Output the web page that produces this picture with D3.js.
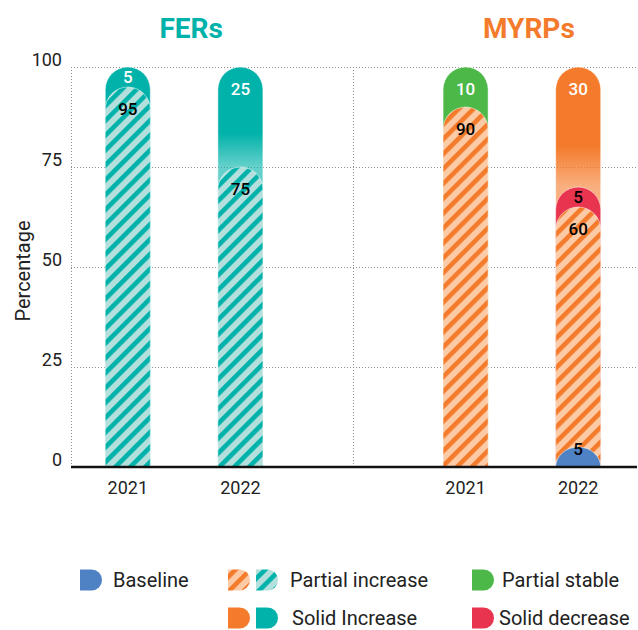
<!DOCTYPE html>
<html>
<head>
<meta charset="utf-8">
<script src="https://cdn.jsdelivr.net/npm/d3@7"></script>
<style>
  html, body { margin: 0; padding: 0; background: #fff; }
  svg { display: block; font-family: Roboto, "Noto Sans", sans-serif; }
</style>
</head>
<body>
<svg id="chart" width="638" height="630"></svg>
<script>
// Programme groups and reporting years
const groups = ["FERs", "MYRPs"];
const years = ["2021", "2022"];

// Percentages per [group][year]
const baseline        = [[0, 0], [0, 5]];
const partialIncrease = [[95, 75], [90, 60]];
const solidDecrease   = [[0, 0], [0, 5]];
const partialStable   = [[0, 0], [10, 0]];
const solidIncrease   = [[5, 25], [0, 30]];

const yTicks = [0, 25, 50, 75, 100];
const yLabel = "Percentage";

const legendRow1 = ["Baseline", "Partial increase", "Partial stable"];
const legendRow2 = ["Solid Increase", "Solid decrease"];

// Palette
const teal = "#00b2a9", tealLight = "#b3dfdc";
const orange = "#f47b2b", orangeLight = "#fdcaa6";
const green = "#4cb848", red = "#e8344f", blue = "#4f82c4";
const groupColor = [teal, orange];

const svg = d3.select("#chart");
const defs = svg.append("defs");

// Diagonal hatch patterns
function hatch(id, light, dark) {
  const p = defs.append("pattern")
    .attr("id", id).attr("patternUnits", "userSpaceOnUse")
    .attr("width", 10.5).attr("height", 10.5)
    .attr("patternTransform", "rotate(45)");
  p.append("rect").attr("width", 10.5).attr("height", 10.5).attr("fill", light);
  p.append("rect").attr("width", 4.6).attr("height", 10.5).attr("fill", dark);
}
hatch("hatch-teal", tealLight, teal);
hatch("hatch-orange", orangeLight, orange);

// Stack order, bottom to top
const series = [
  { key: "baseline", values: baseline, fill: () => blue, text: "#000" },
  { key: "partialIncrease", values: partialIncrease, fill: g => g === 0 ? "url(#hatch-teal)" : "url(#hatch-orange)", text: "#000" },
  { key: "solidDecrease", values: solidDecrease, fill: () => red, text: "#000" },
  { key: "partialStable", values: partialStable, fill: () => green, text: "#fff" },
  { key: "solidIncrease", values: solidIncrease, fill: g => groupColor[g], text: "#fff", fade: true }
];

// Slots along the x axis: two groups with an empty slot between them
const slots = [];
groups.forEach((g, gi) => {
  years.forEach(y => slots.push(g + "|" + y));
  if (gi < groups.length - 1) slots.push("gap|" + gi);
});

const x = d3.scaleBand().domain(slots).range([71.5, 634.5])
  .paddingInner(0.6).paddingOuter(0.3);
const y = d3.scaleLinear().domain([0, 100]).range([467, 67]);

const left = 71, right = 637;

// Dotted gridlines
const grid = svg.append("g").attr("stroke", "#8f8f8f").attr("stroke-width", 1)
  .attr("stroke-dasharray", "1,2");
yTicks.filter(t => t > 0).forEach(t => {
  grid.append("line").attr("x1", left).attr("x2", right)
    .attr("y1", Math.round(y(t)) + 0.5).attr("y2", Math.round(y(t)) + 0.5);
});
grid.append("line").attr("x1", left + 0.5).attr("x2", left + 0.5)
  .attr("y1", y(100)).attr("y2", y(0));
slots.filter(s => s.startsWith("gap")).forEach(s => {
  const cx = Math.round(x(s) + x.bandwidth() / 2) + 0.5;
  grid.append("line").attr("x1", cx).attr("x2", cx).attr("y1", y(100)).attr("y2", y(0));
});

// Rounded-top bar shape
function roundedTop(x0, w, yTop, yBottom) {
  const r = w / 2;
  const ry = Math.min(r, yBottom - yTop);
  return `M${x0},${yBottom}V${yTop + ry}A${r},${ry} 0 0 1 ${x0 + w},${yTop + ry}V${yBottom}Z`;
}

const bars = svg.append("g");
const labels = svg.append("g").attr("font-size", 17).attr("font-weight", 500)
  .attr("text-anchor", "middle").attr("dominant-baseline", "central");

groups.forEach((g, gi) => {
  years.forEach((yr, yi) => {
    const slot = g + "|" + yr;
    const x0 = x(slot), w = x.bandwidth(), cx = x0 + w / 2;
    let cum = 0;
    const segs = series.map(s => {
      const v = s.values[gi][yi];
      const seg = { s, v, y0: cum, y1: cum + v };
      cum += v;
      return seg;
    }).filter(d => d.v > 0);

    // Back to front: top-most segment first
    segs.slice().reverse().forEach(d => {
      let fill = d.s.fill(gi);
      if (d.s.fade && d.v >= 20) {
        const id = `fade-${gi}-${yi}`;
        const lg = defs.append("linearGradient").attr("id", id)
          .attr("gradientUnits", "userSpaceOnUse")
          .attr("x1", 0).attr("x2", 0).attr("y1", y(d.y1)).attr("y2", y(d.y0));
        lg.append("stop").attr("offset", 0).attr("stop-color", fill);
        lg.append("stop").attr("offset", 0.66).attr("stop-color", fill);
        lg.append("stop").attr("offset", 1).attr("stop-color", fill).attr("stop-opacity", 0.6);
        fill = `url(#${id})`;
      }
      bars.append("path")
        .attr("d", roundedTop(x0, w, y(d.y1), y(0)))
        .attr("fill", fill)
        .attr("stroke", "#fff").attr("stroke-opacity", 0.5).attr("stroke-width", 1);
    });

    segs.forEach(d => {
      const top = y(d.y1), mid = (y(d.y0) + y(d.y1)) / 2;
      const small = y(d.y0) - top < 40;
      const ly = small ? (d.y0 === 0 ? top + 2 : mid) : top + 22;
      labels.append("text").attr("x", cx).attr("y", ly)
        .attr("fill", d.s.text).text(d.v);
    });
  });
});

// Base line
svg.append("line").attr("x1", left).attr("x2", right)
  .attr("y1", y(0)).attr("y2", y(0))
  .attr("stroke", "#111").attr("stroke-width", 2.5);

// Y axis labels
const yAxis = svg.append("g").attr("transform", `translate(${left},0)`)
  .call(d3.axisLeft(y).tickValues(yTicks).tickSize(0).tickPadding(9));
yAxis.select(".domain").remove();
yAxis.selectAll("text").attr("font-size", 18).attr("fill", "#222")
  .attr("font-family", "Roboto, sans-serif").attr("y", -7);

// X axis labels (years)
const xAxis = svg.append("g").attr("transform", `translate(0,${y(0)})`)
  .call(d3.axisBottom(x).tickValues(slots.filter(s => !s.startsWith("gap")))
    .tickSize(0).tickPadding(14).tickFormat(s => s.split("|")[1]));
xAxis.select(".domain").remove();
xAxis.selectAll("text").attr("font-size", 18).attr("fill", "#222")
  .attr("font-family", "Roboto, sans-serif");

// Axis title
svg.append("text").attr("transform", "translate(23,271) rotate(-90)")
  .attr("text-anchor", "middle").attr("dominant-baseline", "central")
  .attr("font-size", 20).attr("fill", "#222").text(yLabel);

// Group titles
groups.forEach((g, gi) => {
  const a = x(g + "|" + years[0]), b = x(g + "|" + years[years.length - 1]);
  const cx = (a + b + x.bandwidth()) / 2 + 7;
  svg.append("text").attr("x", cx).attr("y", 38)
    .attr("text-anchor", "middle").attr("font-size", 28).attr("font-weight", 700)
    .attr("fill", groupColor[gi]).text(g);
});

// Legend
function dShape(x0, y0, w, h) {
  const r = h / 2;
  return `M${x0},${y0}H${x0 + w - r}A${r},${r} 0 0 1 ${x0 + w - r},${y0 + h}H${x0}Z`;
}
const legend = svg.append("g").attr("font-size", 20).attr("fill", "#222");
const legendItems = [
  { label: legendRow1[0], fills: [blue], ix: 80, tx: 113, cy: 580 },
  { label: legendRow1[1], fills: ["url(#hatch-orange)", "url(#hatch-teal)"], ix: 228, tx: 290, cy: 580 },
  { label: legendRow1[2], fills: [green], ix: 472, tx: 502, cy: 580 },
  { label: legendRow2[0], fills: [orange, teal], ix: 228, tx: 292, cy: 618 },
  { label: legendRow2[1], fills: [red], ix: 472, tx: 499, cy: 618 }
];
legendItems.forEach(it => {
  it.fills.forEach((f, i) => {
    legend.append("path").attr("d", dShape(it.ix + i * 28, it.cy - 10.5, 22, 21)).attr("fill", f);
  });
  legend.append("text").attr("x", it.tx).attr("y", it.cy)
    .attr("dominant-baseline", "central").text(it.label);
});
</script>
</body>
</html>
